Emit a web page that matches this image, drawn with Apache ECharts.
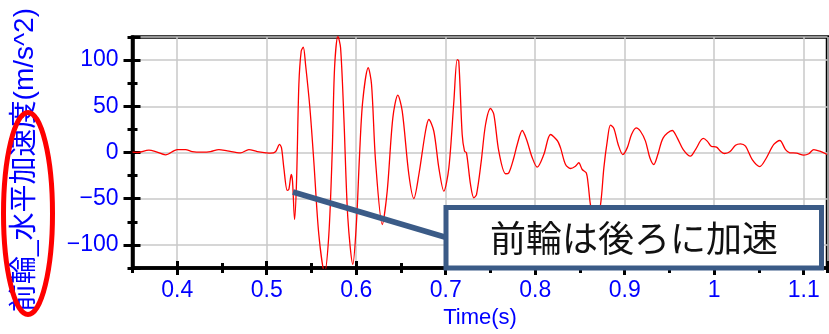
<!DOCTYPE html>
<html>
<head>
<meta charset="utf-8">
<script src="https://cdn.jsdelivr.net/npm/echarts@6/dist/echarts.min.js"></script>
<style>
html,body{margin:0;padding:0;background:#fff;}
#chart{width:829px;height:334px;}
</style>
</head>
<body>
<div id="chart"></div>
<script>
// ---- data ----
const timeS = [
0.350,0.3553,0.3683,0.3758,0.3869,0.4000,0.4093,0.4168,0.4279,0.4372,0.4465,0.4559,0.4707,0.4800,0.4894,0.5000,
0.5042,0.5098,0.5143,0.5165,0.5191,0.5229,0.5247,0.5274,0.5288,0.5311,0.5333,0.5359,0.5385,0.5408,0.5434,0.5482,
0.5526,0.5582,0.5646,0.5694,0.5732,0.5758,0.5795,0.5825,0.5862,0.5906,0.5962,0.6003,0.6036,0.6072,0.6134,0.6171,
0.6216,0.6291,0.6346,0.6409,0.6465,0.6514,0.6588,0.6644,0.6700,0.6774,0.6811,0.6867,0.6923,0.6979,0.7035,0.7091,
0.7128,0.7146,0.7184,0.7210,0.7232,0.7277,0.7314,0.7344,0.7397,0.7445,0.7501,0.7538,0.7593,0.7668,0.7705,0.7761,
0.7799,0.7855,0.7903,0.7967,0.8022,0.8096,0.8171,0.8246,0.8283,0.8339,0.8394,0.8450,0.8487,0.8525,0.8570,0.8592,
0.8617,0.8673,0.8730,0.8767,0.8805,0.8841,0.8879,0.8927,0.8979,0.9028,0.9076,0.9128,0.9176,0.9232,0.9281,0.9325,
0.9370,0.9430,0.9531,0.9587,0.9654,0.9735,0.9791,0.9877,0.9922,0.9966,1.0026,1.0070,1.0115,1.0174,1.0238,1.0294,
1.0350,1.0425,1.0510,1.0573,1.0666,1.0733,1.0797,1.0845,1.0920,1.1001,1.1057,1.1113,1.1180,1.1263
];
const accel = [
0.5,0,2.5,1,-2.5,3.2,3.2,1,0.4,1,3.2,1.8,-0.4,3.2,1,-0.4,
-0.7,0.8,8.7,5,-16.6,-41,-40,-23.8,-31,-72.5,-31,73.6,109.6,114,95,48.4,
-9.4,-88.7,-130,-88.7,1.4,91.7,126,113.3,37.5,-70.7,-121,-75,-5,55,91.7,73.6,
-9.4,-77.9,-41.9,37.5,62,44.7,-23.8,-49.8,-23.8,23,35.7,23,-16.6,-41.9,-16.6,55.5,
100.6,98.8,19.5,1.4,-0.3,-34.6,-49,-45.5,-9.4,30.3,47.6,41.1,1.4,-23,-22,-5.7,
8.7,23.8,14.1,-5.7,-15.9,-2.2,19.5,13,5,-13,-17.3,-14.8,-11.1,-18.4,-22,-34.6,
-56.3,-80,-56.3,-16.6,12.3,29.6,26,8.7,-2.2,5,19.5,26.7,23,12.3,-5.7,-13,
-2.2,15.9,23.8,15.9,3.2,-4,3.2,15.2,12.3,6.8,5.8,1.4,-1.1,0.7,7.9,9.4,
6.8,-7.6,-15.2,-7.6,8.7,13,3.2,-0.3,-0.7,-2.9,-1.4,3.2,1.4,-2.2
];
const xMin = 0.35, xMax = 1.1266;
const yMin = -125, yMax = 125;
const yTitle = '前輪_水平加速度(m/s^2)';
const xTitle = 'Time(s)';
const noteText = '前輪は後ろに加速';

const blue = '#0000ff';
const seriesData = timeS.map((t, i) => [t, accel[i]]);

function xAx(opts) {
  return Object.assign({
    type: 'value', min: xMin, max: xMax, position: 'bottom', gridIndex: 0,
    axisLine: { show: false, onZero: false },
    axisLabel: { show: false },
    splitLine: { show: false },
    axisTick: { show: true, lineStyle: { color: '#000', width: 3 } }
  }, opts);
}
function yAx(opts) {
  return Object.assign({
    type: 'value', min: yMin, max: yMax, position: 'left', gridIndex: 0,
    axisLine: { show: false, onZero: false },
    axisLabel: { show: false },
    splitLine: { show: false },
    axisTick: { show: true, lineStyle: { color: '#000', width: 3 } }
  }, opts);
}

const chart = echarts.init(document.getElementById('chart'), null, { renderer: 'canvas' });
chart.setOption({
  animation: false,
  backgroundColor: '#fff',
  grid: { left: 132.5, right: 1.5, top: 37, bottom: 64, show: true, borderColor: '#000', borderWidth: 3.5, containLabel: false },
  xAxis: [
    xAx({
      splitNumber: 8,
      axisLine: { show: true, onZero: false, lineStyle: { color: '#000', width: 3.5 } },
      axisTick: { show: true, inside: false, length: 7, lineStyle: { color: '#000', width: 3 } },
      axisLabel: { show: true, color: blue, fontSize: 23, fontFamily: 'Liberation Sans, Arial, sans-serif', margin: 11, showMinLabel: false, showMaxLabel: false },
      splitLine: { show: true, lineStyle: { color: '#c8c8c8', width: 1.5 } },
      name: xTitle, nameLocation: 'middle', nameGap: 39,
      nameTextStyle: { color: blue, fontSize: 22, fontFamily: 'Liberation Sans, Arial, sans-serif' }
    }),
    xAx({ splitNumber: 8, axisTick: { show: true, inside: true, length: 7, lineStyle: { color: '#000', width: 3 } } }),
    xAx({ interval: 0.05, axisTick: { show: true, inside: false, length: 5, lineStyle: { color: '#000', width: 3 } } }),
    xAx({ interval: 0.05, axisTick: { show: true, inside: true, length: 5, lineStyle: { color: '#000', width: 3 } } })
  ],
  yAxis: [
    yAx({
      splitNumber: 5,
      axisLine: { show: true, onZero: false, lineStyle: { color: '#000', width: 3.5 } },
      axisTick: { show: true, inside: false, length: 9, lineStyle: { color: '#000', width: 3 } },
      axisLabel: { show: true, color: blue, fontSize: 23, fontFamily: 'Liberation Sans, Arial, sans-serif', margin: 14, showMinLabel: false, showMaxLabel: false,
        formatter: v => String(v).replace('-', '\u2212') },
      splitLine: { show: true, lineStyle: { color: '#c8c8c8', width: 1.5 } },
      name: yTitle, nameLocation: 'middle', nameGap: 93, nameRotate: 90,
      nameTextStyle: { color: blue, fontSize: 28, fontFamily: 'Liberation Sans, Noto Sans CJK JP, sans-serif', padding: [0, 15, 0, 0] }
    }),
    yAx({ splitNumber: 5, axisTick: { show: true, inside: true, length: 8, lineStyle: { color: '#000', width: 3 } } }),
    yAx({ interval: 25, axisTick: { show: true, inside: false, length: 5, lineStyle: { color: '#000', width: 3 } } }),
    yAx({ interval: 25, axisTick: { show: true, inside: true, length: 5, lineStyle: { color: '#000', width: 3 } } })
  ],
  series: [{
    type: 'line', xAxisIndex: 0, yAxisIndex: 0,
    data: seriesData, showSymbol: false, symbol: 'none', smooth: 0.3,
    lineStyle: { color: '#ff0000', width: 1.3 },
    clip: true, z: 3
  }],
  graphic: [
    { type: 'ellipse', shape: { cx: 28, cy: 213.5, rx: 24.5, ry: 101 }, style: { fill: 'none', stroke: '#ff0000', lineWidth: 5 }, z: 100 },
    { type: 'line', shape: { x1: 293, y1: 192, x2: 448, y2: 238 }, style: { stroke: '#3b5b87', lineWidth: 5.5 }, z: 100 },
    { type: 'rect', shape: { x: 446, y: 207.5, width: 375.5, height: 60.5 }, style: { fill: '#fff', stroke: '#3b5b87', lineWidth: 5 }, z: 101 },
    { type: 'text', x: 634, y: 238.5, style: { text: noteText, fill: '#111', font: '36px "Noto Sans CJK JP", sans-serif', align: 'center', verticalAlign: 'middle' }, z: 102 }
  ]
});
</script>
</body>
</html>
